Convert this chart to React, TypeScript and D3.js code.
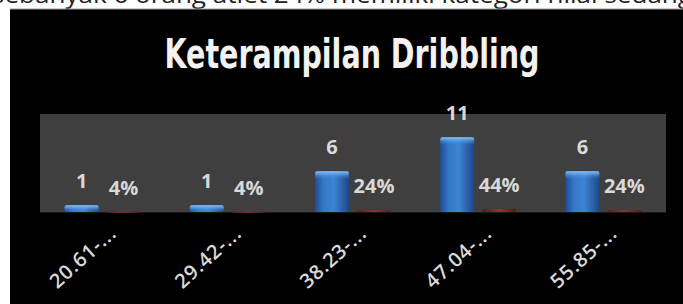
import React from "react";
import * as d3 from "d3";

const categories = ["20.61-...", "29.42-...", "38.23-...", "47.04-...", "55.85-..."];
const counts = [1, 1, 6, 11, 6];
const percents = [0.04, 0.04, 0.24, 0.44, 0.24];
const percentLabels = ["4%", "4%", "24%", "44%", "24%"];
const seriesNames = ["Jumlah", "Persentase"];
const titleText = "Keterampilan Dribbling";
const topLine = "sebanyak 6 orang atlet 24% memiliki kategori nilai sedang";

const W = 683;
const H = 304;
const plot = { left: 40, right: 666, top: 114, bottom: 212 };

export default function App() {
  const x0 = d3
    .scaleBand<string>()
    .domain(categories)
    .range([plot.left, plot.right])
    .paddingInner(0.393)
    .paddingOuter(0.1965);
  const x1 = d3
    .scaleBand<string>()
    .domain(seriesNames)
    .range([0, x0.bandwidth()])
    .paddingInner(0.19)
    .paddingOuter(0);
  const y = d3.scaleLinear().domain([0, 14.4]).range([plot.bottom, plot.top]);

  const labelFont = "'Open Sans', 'Liberation Sans', sans-serif";

  return (
    <svg
      width={W}
      height={H}
      style={{ position: "absolute", left: 0, top: 0, background: "#fff" }}
    >
      <defs>
        <linearGradient id="blueG" x1="0" x2="1" y1="0" y2="0">
          <stop offset="0%" stopColor="#1e4d93" />
          <stop offset="25%" stopColor="#3577c6" />
          <stop offset="55%" stopColor="#3f83d4" />
          <stop offset="100%" stopColor="#1c4787" />
        </linearGradient>
        <linearGradient id="blueTop" x1="0" x2="0" y1="0" y2="1">
          <stop offset="0%" stopColor="#8cc6fb" />
          <stop offset="100%" stopColor="#3f83d4" stopOpacity="0" />
        </linearGradient>
        <linearGradient id="redG" x1="0" x2="1" y1="0" y2="0">
          <stop offset="0%" stopColor="#5a1c1c" />
          <stop offset="50%" stopColor="#9a3030" />
          <stop offset="100%" stopColor="#551a1a" />
        </linearGradient>
      </defs>

      {/* cropped document line above */}
      <text
        x={-8}
        y={3}
        fontFamily="'Open Sans', sans-serif"
        fontSize={24}
        fill="#222"
        textLength={700}
        lengthAdjust="spacingAndGlyphs"
      >
        {topLine}
      </text>

      {/* chart background */}
      <rect x={10} y={9} width={W - 10} height={H - 9} fill="#000" />
      <line x1={10} x2={W} y1={9} y2={9} stroke="#9a9a9a" strokeWidth={1} />

      {/* title */}
      <text
        x={352}
        y={68}
        textAnchor="middle"
        fontFamily="'DejaVu Sans Condensed', 'DejaVu Sans', sans-serif"
        fontWeight="bold"
        fontStretch="condensed"
        fontSize={40}
        fill="#f2f2f2"
        textLength={375}
        lengthAdjust="spacingAndGlyphs"
      >
        {titleText}
      </text>

      {/* plot area */}
      <rect
        x={plot.left}
        y={plot.top}
        width={plot.right - plot.left}
        height={plot.bottom - plot.top}
        fill="#3f3f3f"
      />
      <line
        x1={plot.left}
        x2={plot.right}
        y1={plot.bottom + 0.5}
        y2={plot.bottom + 0.5}
        stroke="#1a1a1a"
        strokeWidth={1}
      />

      {categories.map((cat, i) => {
        const gx = x0(cat)!;
        const bx = gx + x1(seriesNames[0])!;
        const rx = gx + x1(seriesNames[1])!;
        const bw = x1.bandwidth();
        const bTop = y(counts[i]);
        const rTop = y(percents[i]);
        return (
          <g key={cat}>
            <rect x={bx} y={bTop} width={bw} height={plot.bottom - bTop} fill="url(#blueG)" rx={2} />
            <rect
              x={bx}
              y={bTop}
              width={bw}
              height={Math.min(8, plot.bottom - bTop)}
              fill="url(#blueTop)"
              rx={2}
            />
            <rect x={rx} y={rTop} width={bw} height={Math.max(1, plot.bottom - rTop)} fill="url(#redG)" />
            <text
              x={bx + bw / 2}
              y={bTop - 17}
              textAnchor="middle"
              fontFamily={labelFont}
              fontWeight="bold"
              fontSize={20}
              fill="#d9d9d9"
            >
              {counts[i]}
            </text>
            <text
              x={rx + bw / 2}
              y={rTop - 17}
              textAnchor="middle"
              fontFamily={labelFont}
              fontWeight="bold"
              fontSize={20}
              fill="#d9d9d9"
            >
              {percentLabels[i]}
            </text>
            <text
              transform={`translate(${gx + x0.bandwidth() / 2 + 15},${235}) rotate(-42)`}
              textAnchor="end"
              fontFamily={labelFont}
              fontWeight={600}
              fontSize={20}
              letterSpacing={0.8}
              fill="#d9d9d9"
            >
              {cat}
            </text>
          </g>
        );
      })}
    </svg>
  );
}
